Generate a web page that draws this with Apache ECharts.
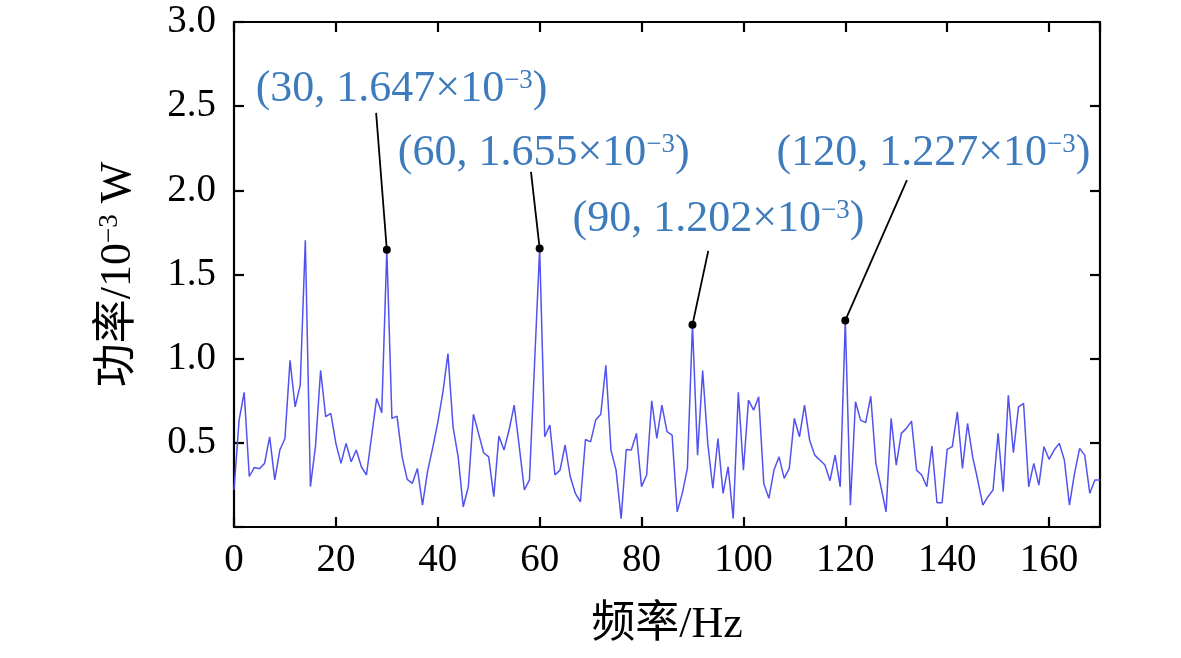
<!DOCTYPE html>
<html>
<head>
<meta charset="utf-8">
<script src="https://cdn.jsdelivr.net/npm/echarts@6/dist/echarts.min.js"></script>
<style>
  html, body { margin: 0; padding: 0; background: #fff; }
  #chart { width: 1181px; height: 658px; }
</style>
</head>
<body>
<div id="chart"></div>
<script>
// Leistungsspektrum, 0..170 Hz in 1-Hz-Schritten (Werte in 10^-3 W)
const power = [
  0.22, 0.635, 0.80, 0.30, 0.354, 0.346, 0.378, 0.536, 0.28, 0.457,
  0.526, 0.99, 0.714, 0.843, 1.703, 0.24, 0.48, 0.93, 0.655, 0.675,
  0.497, 0.378, 0.497, 0.388, 0.457, 0.358, 0.309, 0.536, 0.764, 0.678,
  1.647, 0.645, 0.659, 0.417, 0.283, 0.259, 0.348, 0.13, 0.33, 0.47,
  0.62, 0.80, 1.03, 0.595, 0.417, 0.12, 0.239, 0.67, 0.556, 0.441,
  0.417, 0.18, 0.54, 0.457, 0.576, 0.724, 0.477, 0.22, 0.28, 0.97,
  1.655, 0.536, 0.605, 0.309, 0.338, 0.487, 0.30, 0.20, 0.15, 0.52,
  0.506, 0.635, 0.67, 0.96, 0.457, 0.338, 0.05, 0.46, 0.457, 0.556,
  0.24, 0.309, 0.75, 0.526, 0.724, 0.566, 0.546, 0.09, 0.20, 0.348,
  1.202, 0.427, 0.93, 0.497, 0.23, 0.526, 0.20, 0.358, 0.05, 0.80,
  0.338, 0.754, 0.694, 0.773, 0.259, 0.17, 0.338, 0.417, 0.289, 0.348,
  0.645, 0.536, 0.724, 0.516, 0.427, 0.398, 0.368, 0.275, 0.427, 0.239,
  1.227, 0.13, 0.744, 0.635, 0.62, 0.777, 0.378, 0.239, 0.09, 0.645,
  0.368, 0.556, 0.586, 0.629, 0.338, 0.309, 0.239, 0.481, 0.144, 0.144,
  0.461, 0.477, 0.684, 0.348, 0.615, 0.417, 0.279, 0.13, 0.18, 0.22,
  0.556, 0.21, 0.783, 0.441, 0.714, 0.734, 0.239, 0.378, 0.249, 0.477,
  0.402, 0.457, 0.497, 0.398, 0.13, 0.318, 0.467, 0.427, 0.20, 0.279,
  0.279
];
const freqStart = 0;   // Hz
const freqStep = 1;    // Hz

// markierte Spitzen
const peakFreq = [30, 60, 90, 120];
const peakText = ['1.647', '1.655', '1.202', '1.227'];
// Ende der Hinweislinie und Mitte der Beschriftung (in Datenkoordinaten)
const leaderEnd = [[27.9, 2.46], [58.3, 2.11], [93.1, 1.64], [132.1, 2.06]];
const labelPos = [[32.9, 2.60], [60.8, 2.22], [95.1, 1.83], [137.3, 2.22]];

const xTicks = { min: 0, max: 170, interval: 20 };
const yTicks = { min: 0, max: 3, interval: 0.5 };

const serif = "'Liberation Serif', 'Times New Roman', 'Noto Sans CJK SC', serif";
const labelBlue = '#0e5aab';

const series = power.map((v, i) => [freqStart + i * freqStep, v]);
const peakValue = peakFreq.map(f => power[(f - freqStart) / freqStep]);

const chart = echarts.init(document.getElementById('chart'));

const axisCommon = {
  axisLine: { show: true, onZero: false, lineStyle: { color: '#000', width: 2.2 } },
  axisTick: { show: true, inside: true, length: 10, lineStyle: { color: '#000', width: 2.2 } },
  splitLine: { show: false }
};

const option = {
  backgroundColor: '#fff',
  animation: false,
  grid: { left: 234, right: 81, top: 22, bottom: 131 },
  xAxis: [
    Object.assign({
      type: 'value', position: 'bottom',
      min: xTicks.min, max: xTicks.max, interval: xTicks.interval,
      name: '频率/Hz', nameLocation: 'middle', nameGap: 76,
      nameTextStyle: { fontFamily: serif, fontSize: 44, color: '#000' },
      axisLabel: { fontFamily: serif, fontSize: 39, color: '#000', margin: 14,
        showMaxLabel: false }
    }, axisCommon),
    Object.assign({
      type: 'value', position: 'top',
      min: xTicks.min, max: xTicks.max, interval: xTicks.interval,
      axisLabel: { show: false }
    }, axisCommon)
  ],
  yAxis: [
    Object.assign({
      type: 'value', position: 'left',
      min: yTicks.min, max: yTicks.max, interval: yTicks.interval,
      name: '功率/10{sup|−3} W', nameLocation: 'middle', nameGap: 94,
      nameTextStyle: { fontFamily: serif, fontSize: 44, color: '#000',
        rich: { sup: { fontFamily: serif, fontSize: 27, verticalAlign: 'top', color: '#000' } } },
      axisLabel: { fontFamily: serif, fontSize: 39, color: '#000', margin: 18,
        formatter: v => v === 0 ? '' : v.toFixed(1) }
    }, axisCommon),
    Object.assign({
      type: 'value', position: 'right',
      min: yTicks.min, max: yTicks.max, interval: yTicks.interval,
      axisLabel: { show: false }
    }, axisCommon)
  ],
  series: [
    {
      name: 'power',
      type: 'line',
      data: series,
      showSymbol: false,
      lineStyle: { color: '#5252f0', width: 1.5 },
      z: 2,
      markLine: {
        silent: true,
        symbol: ['none', 'none'],
        label: { show: false },
        lineStyle: { color: '#000', width: 1.8, type: 'solid' },
        data: peakFreq.map((f, i) => [
          { coord: [f, peakValue[i]] },
          { coord: leaderEnd[i] }
        ])
      },
      markPoint: {
        silent: true,
        symbol: 'circle',
        symbolSize: 8,
        itemStyle: { color: '#000' },
        label: { show: false },
        data: peakFreq.map((f, i) => ({ coord: [f, peakValue[i]] }))
      }
    },
    {
      name: 'labels',
      type: 'scatter',
      symbolSize: 0,
      silent: true,
      data: labelPos.map((p, i) => ({ value: p, name: '(' + peakFreq[i] + ', ' + peakText[i] + '×10{sup|−3})' })),
      label: {
        show: true,
        position: 'inside',
        formatter: p => p.name,
        fontFamily: serif,
        fontSize: 44,
        color: labelBlue,
        rich: { sup: { fontFamily: serif, fontSize: 27, verticalAlign: 'top', color: labelBlue } }
      },
      z: 5
    }
  ]
};

chart.setOption(option);
window.addEventListener('resize', () => chart.resize());
</script>
</body>
</html>
